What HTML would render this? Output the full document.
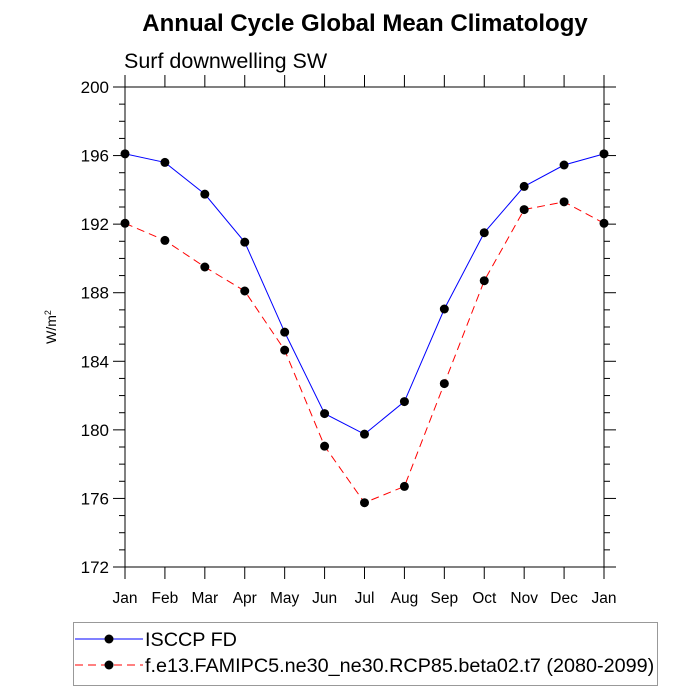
<!DOCTYPE html>
<html><head><meta charset="utf-8"><style>body{margin:0;background:#fff}svg{display:block;font-family:"Liberation Sans",Arial,sans-serif}</style></head>
<body>
<svg id="c" width="700" height="700">
<text x="365" y="31" text-anchor="middle" font-size="24" font-weight="bold">Annual Cycle Global Mean Climatology</text>
<text x="124" y="68" font-size="21.5">Surf downwelling SW</text>
<text transform="translate(56,327) rotate(-90)" text-anchor="middle" font-size="14">W/m<tspan dy="-5" font-size="9">2</tspan></text>
<rect x="125" y="87" width="479" height="480" fill="none" stroke="#000" stroke-width="1"/>
<g id="ax"></g><g id="series"></g>
<rect x="73.5" y="622.5" width="584" height="63" fill="none" stroke="#999"/>
<g>
<line x1="75" y1="639" x2="143" y2="639" stroke="#00f"/><circle cx="109" cy="639" r="4.5"/>
<text x="145" y="646" font-size="19.8">ISCCP FD</text></g>
<g>
<line x1="75" y1="665" x2="143" y2="665" stroke="#f00" stroke-dasharray="8,5"/><circle cx="109" cy="665" r="4.5"/>
<text x="145" y="672" font-size="19.8">f.e13.FAMIPC5.ne30_ne30.RCP85.beta02.t7 (2080-2099)</text></g>
</svg>
<script>
const months=["Jan","Feb","Mar","Apr","May","Jun","Jul","Aug","Sep","Oct","Nov","Dec","Jan"];
const isccp=[196.1,195.6,193.75,190.95,185.7,180.95,179.75,181.65,187.05,191.5,194.2,195.45,196.1];
const model=[192.05,191.05,189.5,188.1,184.65,179.05,175.75,176.7,182.7,188.7,192.85,193.3,192.05];
const yTicks=[172,176,180,184,188,192,196,200];
const NS="http://www.w3.org/2000/svg";
const X0=125,X1=604,Y0=567,Y1=87,YMIN=172,YMAX=200;
const xs=i=>X0+i*(X1-X0)/(months.length-1);
const ys=v=>Y0-(v-YMIN)*(Y0-Y1)/(YMAX-YMIN);
function mk(t,a,p){const e=document.createElementNS(NS,t);for(const k in a)e.setAttribute(k,a[k]);p.appendChild(e);return e;}
const ax=document.getElementById('ax');
for(let v=YMIN;v<=YMAX;v++){const y=ys(v);const maj=(v-YMIN)%4===0;const L=maj?12:6;
 const t1=mk('line',{x1:X0-L,x2:X0,y1:y,y2:y,stroke:'#000'},ax);
 
 
 const t2=mk('line',{x1:X1,x2:X1+L,y1:y,y2:y,stroke:'#000'},ax);
 
 }
yTicks.forEach(v=>{const t=mk('text',{x:X0-16,y:ys(v)+6,'text-anchor':'end','font-size':17},ax);t.textContent=v;
 
 });
months.forEach((m,i)=>{const x=xs(i);
 const a=mk('line',{x1:x,x2:x,y1:Y0,y2:Y0+12,stroke:'#000'},ax);
 
 
 const b=mk('line',{x1:x,x2:x,y1:Y1-12,y2:Y1,stroke:'#000'},ax);
 
 
 const t=mk('text',{x:x,y:603,'text-anchor':'middle','font-size':15.5},ax);t.textContent=m;
 
 });
const sg=document.getElementById('series');
function draw(d,col,dash,name){
 const pl=mk('polyline',{points:d.map((v,i)=>xs(i)+','+ys(v)).join(' '),fill:'none',stroke:col,'stroke-width':1,'stroke-dasharray':dash},sg);
 
 
 d.forEach((v,i)=>{const c=mk('circle',{cx:xs(i),cy:ys(v),r:4.5,fill:'#000'},sg);
  
  });}
draw(isccp,'#00f','none','isccp');
draw(model,'#f00','8,5','model');
</script>
</body></html>
